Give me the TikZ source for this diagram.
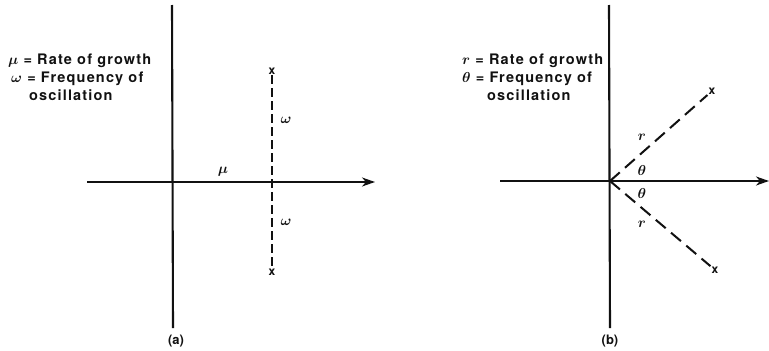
\documentclass[tikz,border=0pt]{standalone}
\usepackage{fontspec}
\setmainfont{TeX Gyre Heros}
\newfontfamily\legendfont[LetterSpace=8]{TeX Gyre Heros}
\usepackage{amsmath}
\usepackage{tikz}
\usetikzlibrary{
  arrows.meta,
  positioning,
  calc,
}
\definecolor{inkblack}{HTML}{111111}

\begin{document}
\begin{tikzpicture}[x=1pt, y=-1pt, inkblack,
  axisline/.style={line width=1.7pt, -{Stealth[length=13pt, width=9pt, inset=4pt]}},
  ordline/.style={line width=2.1pt},
  rootdash/.style={line width=2pt, dash pattern=on 9pt off 4pt},
  rootdashb/.style={line width=2pt, dash pattern=on 13pt off 7pt},
  cross/.style={font=\bfseries\fontsize{12}{12}\selectfont, inner sep=1pt},
  varlabel/.style={font=\fontsize{15}{15}\selectfont\boldmath, inner sep=0pt},
  legend/.style={align=left, anchor=north west, inner sep=0pt,
    font=\legendfont\bfseries\fontsize{14.5}{18}\selectfont\boldmath},
  caption/.style={font=\bfseries\fontsize{13}{13}\selectfont, inner sep=0pt}]
  \useasboundingbox (0,0) rectangle (769,351);

  % (a)
  \coordinate (aT) at (172,5);
  \coordinate (aB) at (173,328);
  \coordinate (aL) at (87,182);
  \coordinate (aR) at (375,182);
  \draw[ordline] (aT) -- (aB);
  \draw[axisline] (aL) -- (aR);
  \node[cross] (aup) at (272,71) {x};
  \node[cross] (adn) at (272,272) {x};
  \draw[rootdash] (aup) -- (adn);
  \node[varlabel] (omup) at (286,120) {$\omega$};
  \node[varlabel] (omdn) at (286,222) {$\omega$};
  \node[varlabel] (mu) at (223,172) {$\mu$};
  \node[legend] (lega) at (8,54) {$\mu$ = Rate of growth\\
    \hspace*{3pt}$\omega$ = Frequency of\\
    \hspace*{21pt}oscillation};
  \node[caption] (capa) at (176,341) {(a)};

  % (b)
  \coordinate (bO) at (610,181);
  \coordinate (bT) at (609,5);
  \coordinate (bB) at (610,328);
  \coordinate (bL) at (500,181);
  \coordinate (bR) at (769,181);
  \draw[ordline] (bT) -- (bB);
  \draw[axisline] (bL) -- (bR);
  \node[cross] (bup) at (712,91) {x};
  \node[cross] (bdn) at (715,270) {x};
  \draw[rootdashb] (bO) -- (bup);
  \draw[rootdashb] (bO) -- (bdn);
  \node[varlabel] (rup) at (642,137) {$r$};
  \node[varlabel] (thup) at (642,170) {$\theta$};
  \node[varlabel] (thdn) at (642,193) {$\theta$};
  \node[varlabel] (rdn) at (642,224) {$r$};
  \node[legend] (legb) at (462,54) {$r$ = Rate of growth\\
    $\theta$ = Frequency of\\
    \hspace*{25pt}oscillation};
  \node[caption] (capb) at (610,341) {(b)};
\end{tikzpicture}
\end{document}
